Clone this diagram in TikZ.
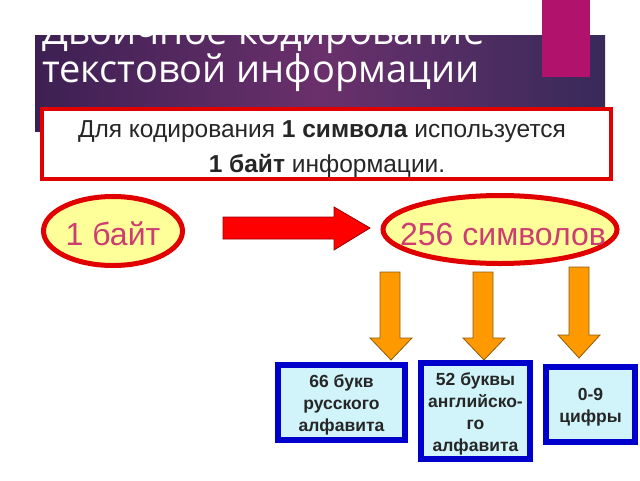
\documentclass[tikz,border=0pt]{standalone}
\usepackage{fontspec}
\setmainfont{Liberation Sans}
\newfontfamily\titlefont{Open Sans}
\usetikzlibrary{shapes.geometric}
\definecolor{bandL}{HTML}{3D2053}
\definecolor{bandM}{HTML}{6A306C}
\definecolor{bandR}{HTML}{382A5A}
\definecolor{pinkbar}{HTML}{B0126C}
\definecolor{ellfill}{HTML}{FFFF99}
\definecolor{ellline}{HTML}{E00000}
\definecolor{elltext}{HTML}{CC3D72}
\definecolor{boxline}{HTML}{0000CC}
\definecolor{boxfill}{HTML}{D0F4FA}
\definecolor{orangearrow}{HTML}{FF9900}
\definecolor{orangeedge}{HTML}{8A5C10}
\definecolor{darktext}{HTML}{262626}
\tikzset{
  ovalbox/.style={ellipse, draw=ellline, line width=5pt, fill=ellfill, inner sep=0pt},
  ovaltext/.style={anchor=base, text=elltext, font=\fontsize{32}{36}\selectfont, inner sep=0pt},
  infobox/.style={draw=boxline, line width=6pt, fill=boxfill, inner sep=0pt},
  infotext/.style={align=center, text=darktext, font=\fontsize{17.5}{22}\selectfont\bfseries, inner sep=0pt},
  redarrow/.style={fill=red, draw=red!60!black, line width=0.8pt},
  downarrow/.style={fill=orangearrow, draw=orangeedge, line width=0.8pt},
  titletext/.style={anchor=base west, text=white, font=\titlefont\fontsize{38}{40}\selectfont, inner sep=0pt},
  stmttext/.style={anchor=base, text=darktext, font=\fontsize{24.5}{28}\selectfont, inner sep=0pt},
}
\begin{document}
\begin{tikzpicture}[x=1pt,y=-1pt]
\useasboundingbox (0,0) rectangle (640,480);
\fill[white] (0,0) rectangle (640,480);
% header band
\shade[left color=bandL, right color=bandR, middle color=bandM] (35,35) rectangle (605,131);
\fill[pinkbar] (542,0) rectangle (590,77);
% title
\node[titletext] (t1) at (42,44) {Двоичное кодирование};
\node[titletext] (t2) at (42,82) {текстовой информации};
% red framed statement
\node[draw=ellline, line width=4pt, fill=white, minimum width=569pt, minimum height=70pt, inner sep=0pt] (stmt) at (326.5,144) {};
\node[stmttext] (s1) at (322,137) {Для кодирования \textbf{1 символа} используется};
\node[stmttext] (s2) at (327,172) {\textbf{1 байт} информации.};
% ovals
\node[ovalbox, minimum width=139pt, minimum height=69pt] (e1) at (113,231) {};
\node[ovaltext] (e1t) at (113,245) {1 байт};
\node[ovalbox, minimum width=234pt, minimum height=68pt] (e2) at (500,229.5) {};
\node[ovaltext] (e2t) at (503,245) {256 символов};
% red arrow
\draw[redarrow] (223,217) -- (334,217) -- (334,207) -- (370,228) -- (334,250) -- (334,239) -- (223,239) -- cycle;
% orange arrows
\draw[downarrow] (380,272) -- (400,272) -- (400,338) -- (412,338) -- (391,360) -- (370,338) -- (380,338) -- cycle;
\draw[downarrow] (473,272) -- (493,272) -- (493,338) -- (505,338) -- (484,360) -- (463,338) -- (473,338) -- cycle;
\draw[downarrow] (569,267) -- (589,267) -- (589,335) -- (600,335) -- (579,358) -- (558,335) -- (569,335) -- cycle;
% boxes
\node[infobox, minimum width=127pt, minimum height=75pt] (b1) at (341.5,402.5) {};
\node[infotext] (b1t) at (341.5,405) {66 букв\\русского\\алфавита};
\node[infobox, minimum width=109pt, minimum height=96pt] (b2) at (475.5,411) {};
\node[infotext] (b2t) at (475.5,413.5) {52 буквы\\английско-\\го\\алфавита};
\node[infobox, minimum width=89pt, minimum height=75pt] (b3) at (590.5,404.5) {};
\node[infotext] (b3t) at (590.5,407) {0-9\\цифры};
\end{tikzpicture}
\end{document}
